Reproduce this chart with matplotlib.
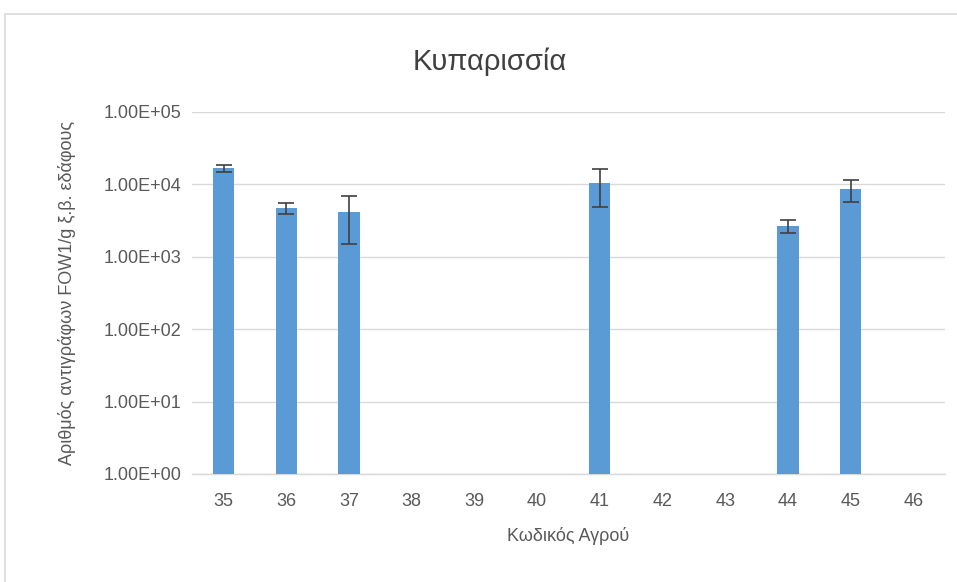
import numpy as np
import matplotlib
matplotlib.use("Agg")
import matplotlib.pyplot as plt
from matplotlib.patches import Rectangle
from matplotlib.ticker import FixedLocator, FixedFormatter

plt.rcParams['font.family'] = ['Liberation Sans Narrow', 'Liberation Sans', 'DejaVu Sans']

categories = ["35", "36", "37", "38", "39", "40", "41", "42", "43", "44", "45", "46"]
values = [16600, 4700, 4200, 0, 0, 0, 10500, 0, 0, 2700, 8600, 0]
errors = [1900, 750, 2700, 0, 0, 0, 5600, 0, 0, 540, 2900, 0]
ytick_vals = [1e0, 1e1, 1e2, 1e3, 1e4, 1e5]
ytick_labels = ["1.00E+00", "1.00E+01", "1.00E+02", "1.00E+03", "1.00E+04", "1.00E+05"]

fig = plt.figure(figsize=(9.57, 5.82), dpi=100)
ax = fig.add_axes([0.201, 0.1856, 0.786, 0.622])

x = np.arange(len(categories))
vals = np.array(values, dtype=float)
errs = np.array(errors, dtype=float)
mask = vals > 0
ax.bar(x[mask], vals[mask], width=0.34, color='#5b9bd5', zorder=3)
ax.errorbar(x[mask], vals[mask], yerr=errs[mask], fmt='none', ecolor='#404040',
            elinewidth=1.2, capsize=6, capthick=1.2, zorder=4)

ax.set_yscale('log')
ax.set_ylim(1, 1e5)
ax.set_xlim(-0.5, len(categories) - 0.5)
ax.yaxis.set_major_locator(FixedLocator(ytick_vals))
ax.yaxis.set_major_formatter(FixedFormatter(ytick_labels))
ax.yaxis.set_minor_locator(FixedLocator([]))
ax.set_xticks(x)
ax.set_xticklabels(categories)
ax.tick_params(axis='both', length=0, labelsize=13, colors='#595959')
ax.tick_params(axis='x', pad=14)
ax.tick_params(axis='y', pad=8)
ax.grid(axis='y', color='#d9d9d9', linewidth=1.0, zorder=0)
for s in ['top', 'right', 'left']:
    ax.spines[s].set_visible(False)
ax.spines['bottom'].set_color('#d9d9d9')
ax.spines['bottom'].set_linewidth(1.0)

ax.set_title("Κυπαρισσία", fontsize=21, color='#404040', pad=30, x=0.395)
ax.set_xlabel("Κωδικός Αγρού", fontsize=13, color='#595959', labelpad=12)
ax.set_ylabel("Αριθμός αντιγράφων FOW1/g ξ.β. εδάφους", fontsize=13, color='#595959', labelpad=20)

fig.patches.append(Rectangle((5/957, -0.01), 1.0, 1 - 14/582 + 0.01, transform=fig.transFigure,
                             fill=False, edgecolor='#d9d9d9', linewidth=1.2))

fig.savefig("out.png", dpi=100)
